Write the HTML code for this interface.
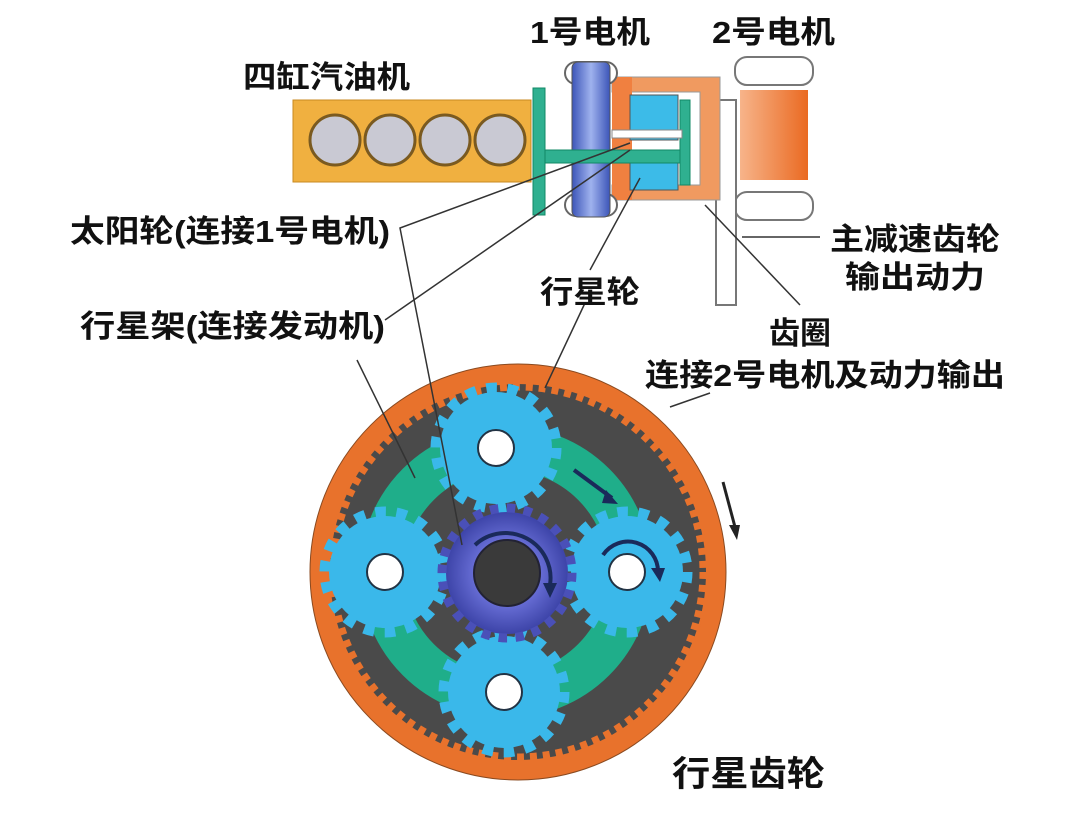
<!DOCTYPE html>
<html><head><meta charset="utf-8"><style>
html,body{margin:0;padding:0;background:#fff}
svg{display:block}
text{font-family:"Liberation Sans","Noto Sans CJK SC",sans-serif;font-weight:bold;fill:#111}
</style></head><body>
<svg width="1080" height="820" viewBox="0 0 1080 820" xmlns="http://www.w3.org/2000/svg">
<defs>
<linearGradient id="bl" x1="0" x2="1"><stop offset="0" stop-color="#3c55b8"/><stop offset="0.5" stop-color="#9fb2ee"/><stop offset="1" stop-color="#3c55b8"/></linearGradient>
<linearGradient id="or" x1="0" x2="1"><stop offset="0" stop-color="#f7b48a"/><stop offset="1" stop-color="#ea6a22"/></linearGradient>
<radialGradient id="sun"><stop offset="0.5" stop-color="#6a70d8"/><stop offset="1" stop-color="#3d44a8"/></radialGradient>
</defs>
<!-- engine -->
<rect x="293" y="100" width="238" height="82" fill="#f0b040" stroke="#c88a20"/>
<g fill="#c9c9d3" stroke="#7a5a20" stroke-width="3">
<circle cx="335" cy="140" r="25"/><circle cx="390" cy="140" r="25"/><circle cx="445" cy="140" r="25"/><circle cx="500" cy="140" r="25"/>
</g>
<!-- motor 2 -->
<rect x="735" y="57" width="78" height="28" rx="12" fill="#fff" stroke="#777" stroke-width="2"/>
<rect x="735" y="192" width="78" height="28" rx="12" fill="#fff" stroke="#777" stroke-width="2"/>
<rect x="740" y="90" width="68" height="90" fill="url(#or)"/>
<!-- output shaft -->
<rect x="716" y="100" width="20" height="205" fill="#fff" stroke="#777" stroke-width="2"/>
<!-- ring housing -->
<path d="M612 77 H720 V200 H612 V185 H700 V92 H612 Z" fill="#f09a60" stroke="#999"/>
<rect x="612" y="77" width="20" height="123" fill="#f08040"/>
<!-- motor1 -->
<rect x="565" y="62" width="52" height="22" rx="11" fill="#fff" stroke="#666" stroke-width="2"/>
<rect x="565" y="194" width="52" height="22" rx="11" fill="#fff" stroke="#666" stroke-width="2"/>
<rect x="572" y="62" width="38" height="155" rx="6" fill="url(#bl)" stroke="#555"/>
<!-- planet blocks -->
<rect x="630" y="95" width="48" height="45" fill="#3cbbe8" stroke="#555"/>
<rect x="630" y="150" width="48" height="40" fill="#3cbbe8" stroke="#555"/>
<!-- carrier -->
<rect x="533" y="88" width="12" height="127" fill="#2fb090" stroke="#186"/>
<rect x="545" y="150" width="140" height="13" fill="#2fb090" stroke="#186"/>
<rect x="680" y="100" width="10" height="85" fill="#2fb090" stroke="#186"/>
<rect x="612" y="130" width="70" height="8" fill="#fff" stroke="#888"/>
<!-- planetary gear -->
<circle cx="518" cy="572" r="198" fill="#4a4a4a" stroke="#e8722c" stroke-width="20"/>
<circle cx="518" cy="572" r="208" fill="none" stroke="#8a4a20" stroke-width="1"/>
<circle cx="518" cy="572" r="186" fill="none" stroke="#e8722c" stroke-width="9" stroke-dasharray="7 6"/>
<circle cx="506" cy="572" r="124" fill="none" stroke="#1fae8a" stroke-width="44"/>
<g fill="#3ab8ea">
<circle cx="496" cy="448" r="56"/><circle cx="496" cy="448" r="60" fill="none" stroke="#3ab8ea" stroke-width="11" stroke-dasharray="10.5 10.5"/>
<circle cx="385" cy="572" r="56"/><circle cx="385" cy="572" r="60" fill="none" stroke="#3ab8ea" stroke-width="11" stroke-dasharray="10.5 10.5"/>
<circle cx="627" cy="572" r="56"/><circle cx="627" cy="572" r="60" fill="none" stroke="#3ab8ea" stroke-width="11" stroke-dasharray="10.5 10.5"/>
<circle cx="504" cy="692" r="56"/><circle cx="504" cy="692" r="60" fill="none" stroke="#3ab8ea" stroke-width="11" stroke-dasharray="10.5 10.5"/>
</g>
<g fill="#fff" stroke="#234" stroke-width="2">
<circle cx="496" cy="448" r="18"/><circle cx="385" cy="572" r="18"/><circle cx="627" cy="572" r="18"/><circle cx="504" cy="692" r="18"/>
</g>
<circle cx="507" cy="573" r="61" fill="url(#sun)"/>
<circle cx="507" cy="573" r="65" fill="none" stroke="#4a50b8" stroke-width="9" stroke-dasharray="8.5 8.5"/>
<circle cx="507" cy="573" r="33" fill="#3a3a3a" stroke="#223" stroke-width="2"/>
<!-- arrows on gear -->
<g fill="none" stroke="#1a2a5a" stroke-width="4">
<path d="M475 545 A45 45 0 0 1 550 585"/>
<path d="M603 555 A30 30 0 0 1 658 572"/>
<path d="M574 470 L612 498"/>
</g>
<g fill="#1a2a5a"><path d="M543 583 L557 583 L550 598Z"/><path d="M651 568 L665 568 L660 582Z"/><path d="M606 490 L618 504 L602 503Z"/></g>
<path d="M723 482 L735 527" stroke="#222" stroke-width="3"/><path d="M729 525 L740 525 L737 540Z" fill="#222"/>
<!-- leader lines -->
<g stroke="#333" stroke-width="1.5" fill="none">
<path d="M630 143 L400 228 L462 545"/>
<path d="M385 320 L630 150"/>
<path d="M357 360 L415 478"/>
<path d="M590 270 L640 178"/>
<path d="M585 303 L545 388"/>
<path d="M800 305 L705 205"/>
<path d="M710 393 L670 407"/>
<path d="M820 237 L742 237"/>
</g>
<!-- labels -->
<g font-size="31">
<text x="530" y="43" textLength="120" lengthAdjust="spacingAndGlyphs">1号电机</text>
<text x="712" y="43" textLength="123" lengthAdjust="spacingAndGlyphs">2号电机</text>
<text x="243" y="88" textLength="167" lengthAdjust="spacingAndGlyphs">四缸汽油机</text>
<text x="70" y="242" textLength="320" lengthAdjust="spacingAndGlyphs">太阳轮(连接1号电机)</text>
<text x="80" y="337" textLength="305" lengthAdjust="spacingAndGlyphs">行星架(连接发动机)</text>
<text x="540" y="303" textLength="100" lengthAdjust="spacingAndGlyphs">行星轮</text>
<text x="830" y="250" textLength="170" lengthAdjust="spacingAndGlyphs">主减速齿轮</text>
<text x="845" y="288" textLength="140" lengthAdjust="spacingAndGlyphs">输出动力</text>
<text x="769" y="344" textLength="62" lengthAdjust="spacingAndGlyphs">齿圈</text>
<text x="645" y="386" textLength="360" lengthAdjust="spacingAndGlyphs">连接2号电机及动力输出</text>
<text x="672" y="786" font-size="35" textLength="153" lengthAdjust="spacingAndGlyphs">行星齿轮</text>
</g>
</svg>
</body></html>
